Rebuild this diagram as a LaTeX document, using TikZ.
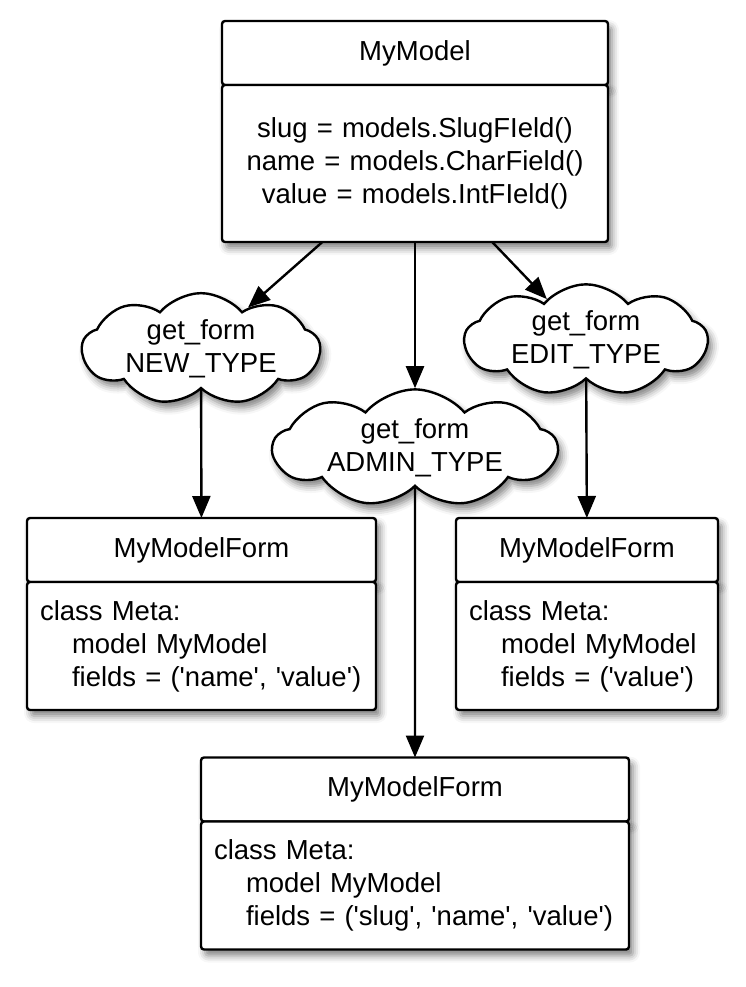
\documentclass[tikz,border=0pt]{standalone}
\usepackage{fontspec}
\setmainfont{Liberation Sans}[Ligatures=TeXOff]
\usetikzlibrary{arrows.meta,positioning,calc,shapes.symbols,shadows.blur}

\begin{document}
\begin{tikzpicture}[x=1pt, y=-1pt, >={Triangle[length=22pt,width=18pt]}, line width=2.4pt,
  font=\fontsize{27.5}{33}\selectfont,
  shade/.style={blur shadow={shadow xshift=4pt, shadow yshift=-6pt, shadow blur radius=7pt, shadow opacity=50}},
  classhead/.style={draw, fill=white, rounded corners=3pt, shade, minimum height=64pt, inner sep=0pt, outer sep=0pt},
  classbody/.style={draw, fill=white, rounded corners=3pt, shade, inner xsep=13pt, outer sep=0pt, align=left},
  bubble/.style={cloud, cloud puffs=9, cloud puff arc=100, cloud ignores aspect, draw, fill=white, shade, align=center, inner sep=0pt}]
  \useasboundingbox (0,0) rectangle (745,987);

  % the model
  \node[classhead, minimum width=386pt] (mymodel) at (415,53) {MyModel};
  \node[classbody, below=0pt of mymodel, minimum width=386pt, text width=360pt, minimum height=157pt, align=center] (mymodelbody)
    {slug = models.SlugFIeld()\\ name = models.CharField()\\ value = models.IntFIeld()};

  % get_form calls
  \node[bubble, minimum width=238pt, minimum height=92pt] (newtype) at (201,349) {get\_form\\ NEW\_TYPE};
  \node[bubble, minimum width=284pt, minimum height=97pt] (admintype) at (415,448) {get\_form\\ ADMIN\_TYPE};
  \node[bubble, minimum width=243pt, minimum height=90pt] (edittype) at (586,340) {get\_form\\ EDIT\_TYPE};

  % resulting forms
  \node[classhead, minimum width=349pt] (newform) at (201.5,550) {MyModelForm};
  \node[classbody, below=0pt of newform, minimum width=349pt, text width=323pt, minimum height=128pt] (newmeta)
    {class Meta:\\ \hspace*{32pt}model MyModel\\ \hspace*{32pt}fields = ('name', 'value')};

  \node[classhead, minimum width=262pt] (editform) at (587,550) {MyModelForm};
  \node[classbody, below=0pt of editform, minimum width=262pt, text width=236pt, minimum height=128pt] (editmeta)
    {class Meta:\\ \hspace*{32pt}model MyModel\\ \hspace*{32pt}fields = ('value')};

  \node[classhead, minimum width=428pt] (adminform) at (415,789.5) {MyModelForm};
  \node[classbody, below=0pt of adminform, minimum width=428pt, text width=402pt, minimum height=128pt] (adminmeta)
    {class Meta:\\ \hspace*{32pt}model MyModel\\ \hspace*{32pt}fields = ('slug', 'name', 'value')};

  \draw[->] ($(mymodelbody.south west)!0.26!(mymodelbody.south east)$) -- (newtype);
  \draw[->] (mymodelbody.south) -- (admintype);
  \draw[->] ($(mymodelbody.south west)!0.70!(mymodelbody.south east)$) -- (edittype);
  \draw[->] (newtype) -- (newform);
  \draw[->] (admintype) -- (adminform);
  \draw[->] (edittype) -- (editform);
\end{tikzpicture}
\end{document}
